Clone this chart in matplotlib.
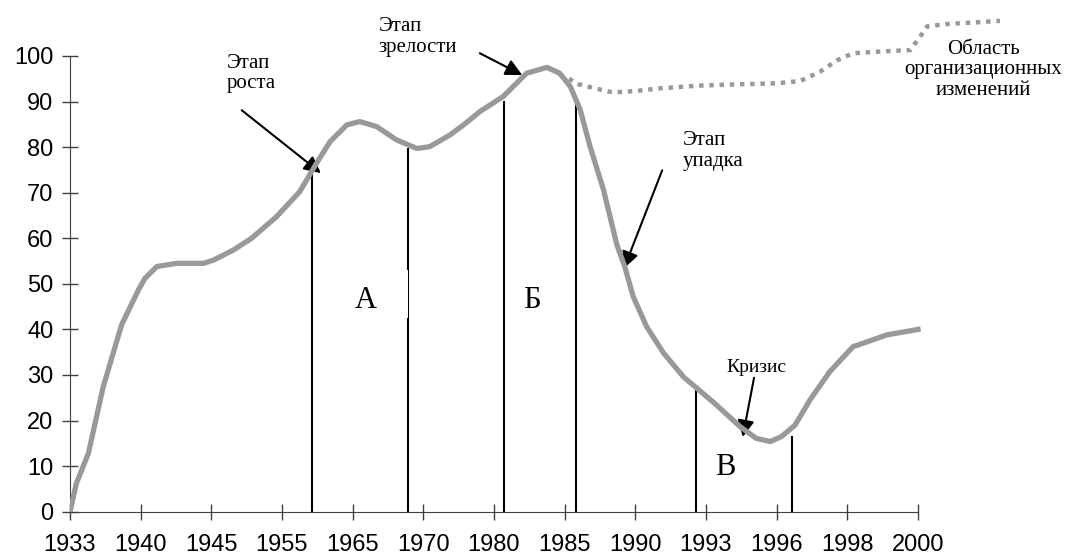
import matplotlib
matplotlib.use("Agg")
from matplotlib import pyplot as plt
from matplotlib.patches import Rectangle

# подписи оси X (категории, равный шаг)
years = ['1933', '1940', '1945', '1955', '1965', '1970', '1980',
         '1985', '1990', '1993', '1996', '1998', '2000']

# основная кривая жизненного цикла: позиция на оси категорий и значение
life_x = [0.0, 0.09, 0.26, 0.47, 0.73, 0.97, 1.06, 1.23, 1.51, 1.89, 2.03,
          2.31, 2.57, 2.92, 3.25, 3.49, 3.68, 3.92, 4.10, 4.34, 4.62, 4.91,
          5.09, 5.38, 5.58, 5.80, 6.13, 6.46, 6.75, 6.93, 7.08, 7.22, 7.36,
          7.55, 7.74, 7.85, 7.97, 8.16, 8.40, 8.68, 8.87, 9.15, 9.48, 9.71,
          9.91, 10.07, 10.26, 10.47, 10.75, 11.08, 11.56, 12.0]
life_y = [0, 6.2, 12.8, 27.4, 41, 48.7, 51.2, 53.8, 54.5, 54.5, 55.2,
          57.4, 60.0, 64.7, 70.2, 76.5, 81.2, 84.9, 85.6, 84.5, 81.6, 79.7,
          80.1, 82.7, 85.0, 87.8, 91.1, 96.2, 97.5, 96.2, 93.3, 88.2, 80.1,
          70.6, 58.5, 53.8, 47.2, 40.6, 34.8, 29.6, 27.1, 23.4, 18.7, 16.1,
          15.4, 16.5, 19, 24.5, 30.7, 36.2, 38.8, 40]

# пунктир - область организационных изменений
change_x = [7.06, 7.2, 7.4, 7.68, 8.0, 8.35, 8.9, 9.5, 10.0, 10.33, 10.61,
            10.85, 11.08, 11.5, 11.89, 12.02, 12.13, 12.4, 13.16]
change_y = [95, 93.8, 93, 92, 92.3, 92.9, 93.5, 93.8, 94, 94.5, 96.5,
            99, 100.6, 101, 101.3, 104, 106.5, 107, 107.7]

# вертикальные границы этапов
stage_x = [3.42, 4.78, 6.14, 7.16, 8.86, 10.22]
stage_top = [74.5, 79.5, 90, 90, 27, 16.3]

serif = 'Liberation Serif'

fig = plt.figure(figsize=(10.67, 5.59), dpi=100)
ax = fig.add_axes([0.0656, 0.0846, 0.8941, 0.8968])

for sx, st in zip(stage_x, stage_top):
    ax.plot([sx, sx], [0, st], color='black', lw=1.5, zorder=2)

# белая подложка под буквой А (частично перекрывает линию, как в оригинале)
ax.add_patch(Rectangle((3.68, 42.4), 1.098, 10.6, facecolor='white',
                       edgecolor='none', zorder=2.5))

ax.plot(change_x, change_y, color='#999999', lw=3.2,
        linestyle=(0, (1, 1.3)), solid_capstyle='butt', zorder=3)
ax.plot(life_x, life_y, color='#999999', lw=3.8, zorder=4,
        solid_joinstyle='round')

ax.set_xlim(0, 13.5)
ax.set_ylim(0, 110)
ax.set_xticks(range(len(years)))
ax.set_xticklabels(years, fontfamily='Liberation Sans', fontsize=17)
ax.set_yticks(range(0, 101, 10))
ax.set_yticklabels([str(v) for v in range(0, 101, 10)],
                   fontfamily='Liberation Sans', fontsize=17)
ax.tick_params(axis='both', direction='inout', length=12, width=1,
               color='#404040')
ax.tick_params(axis='x', pad=10)
ax.tick_params(axis='y', pad=6)
for s in ['top', 'right']:
    ax.spines[s].set_visible(False)
ax.spines['left'].set_bounds(0, 100)
ax.spines['bottom'].set_bounds(0, 12)
ax.spines['left'].set_color('#404040')
ax.spines['bottom'].set_color('#404040')

arrow = dict(arrowstyle='-|>', mutation_scale=25, lw=1.5, color='black',
             shrinkA=0, shrinkB=0)
txt = dict(fontfamily=serif, fontsize=15, linespacing=1.1)

ax.text(2.22, 100.5, 'Этап\nроста', ha='left', va='top', **txt)
ax.annotate('', xy=(3.55, 74.3), xytext=(2.43, 88.1), arrowprops=arrow)

ax.text(4.37, 108.5, 'Этап\nзрелости', ha='left', va='top', **txt)
ax.annotate('', xy=(6.40, 95.8), xytext=(5.80, 100.6), arrowprops=arrow)

ax.text(8.67, 83.5, 'Этап\nупадка', ha='left', va='top', **txt)
ax.annotate('', xy=(7.84, 53.4), xytext=(8.38, 74.9), arrowprops=arrow)

ax.text(12.92, 103.5, 'Область\nорганизационных\nизменений', ha='center',
        va='top', multialignment='center', **txt)

ax.text(9.72, 30.7, 'Кризис', ha='center', va='baseline',
        fontfamily=serif, fontsize=14)
ax.annotate('', xy=(9.52, 16.4), xytext=(9.68, 29.4), arrowprops=arrow)

ax.text(4.19, 46.4, 'А', ha='center', va='center', fontfamily=serif,
        fontsize=22, zorder=5)
ax.text(6.54, 46.4, 'Б', ha='center', va='center', fontfamily=serif, fontsize=22)
ax.text(9.27, 9.6, 'В', ha='center', va='center', fontfamily=serif, fontsize=22)

fig.savefig('out.png', dpi=100)
